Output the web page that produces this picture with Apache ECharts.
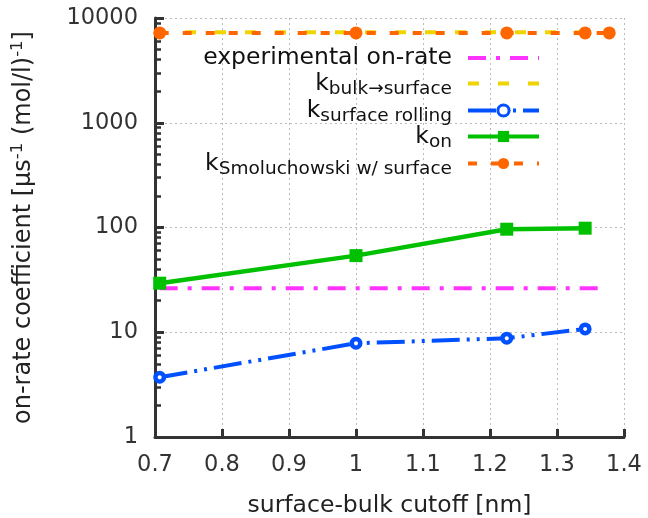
<!DOCTYPE html>
<html>
<head>
<meta charset="utf-8">
<script src="https://cdn.jsdelivr.net/npm/echarts@6/dist/echarts.min.js"></script>
<style>
html,body{margin:0;padding:0;background:#fff;}
#chart{width:648px;height:518px;}
</style>
</head>
<body>
<div id="chart"></div>
<script>
// ---- data ----
const xTickLabels = ['0.7','0.8','0.9','1','1.1','1.2','1.3','1.4'];
const yTickLabels = ['1','10','100','1000','10000'];
const seriesNames = ['experimental on-rate','k_bulk','k_rolling','k_on','k_smol'];

const xExperimental = [0.707, 1.37];
const kExperimental = [26.3, 26.3];

const xBulk = [0.7, 1.375];
const kBulk = [7300, 7300];

const xCutoff = [0.707, 1.0, 1.225, 1.342];
const kRolling = [3.72, 7.85, 8.77, 10.75];
const kOn = [29.4, 53.9, 96.3, 98.5];

const xSmol = [0.707, 1.0, 1.225, 1.342, 1.378];
const kSmol = [7200, 7200, 7200, 7200, 7200];

const pairs = (xs, ys) => xs.map((x, i) => [x, ys[i]]);

const font = 'DejaVu Sans';
const legendRich = {
  t: {fontSize: 23.5, lineHeight: 26, color: '#111', fontFamily: font},
  k: {fontSize: 23.5, lineHeight: 26, color: '#111', fontFamily: font},
  sub: {fontSize: 18.5, lineHeight: 14, padding: [12, 0, 0, 0], color: '#111', fontFamily: font}
};
const legendText = {
  'experimental on-rate': '{t|experimental on-rate}',
  'k_bulk': '{k|k}{sub|bulk\u2192surface}',
  'k_rolling': '{k|k}{sub|surface rolling}',
  'k_on': '{k|k}{sub|on}',
  'k_smol': '{k|k}{sub|Smoluchowski w/ surface}'
};
const legendTops = [46, 68, 95, 121, 148];
const legendItemStyles = [
  {opacity: 0}, {opacity: 0}, {borderWidth: 3}, {}, {}
];

const legends = seriesNames.map((n, i) => ({
  orient: 'vertical',
  right: 107,
  top: legendTops[i],
  padding: 0,
  align: 'right',
  itemWidth: 71,
  itemHeight: 14,
  itemGap: 0,
  selectedMode: false,
  data: [{name: n, itemStyle: legendItemStyles[i]}],
  formatter: nm => legendText[nm],
  lineStyle: {width: 4},
  textStyle: {rich: legendRich, padding: [0, 11, 0, 0]}
}));

const chart = echarts.init(document.getElementById('chart'), null, {renderer: 'canvas'});
chart.setOption({
  animation: false,
  backgroundColor: '#fff',
  grid: {left: 155, right: 24, top: 18, bottom: 81, containLabel: false, outerBoundsMode: 'none'},
  legend: legends,
  xAxis: {
    type: 'value',
    min: 0.7, max: 1.4, interval: 0.1,
    axisLine: {show: true, onZero: false, lineStyle: {color: '#333', width: 3}},
    axisTick: {show: true, inside: true, length: 8, lineStyle: {color: '#333', width: 3}},
    axisLabel: {margin: 17, fontSize: 22.5, color: '#333', fontFamily: font,
      formatter: v => xTickLabels[Math.round((v - 0.7) * 10)]},
    splitLine: {show: true, lineStyle: {color: '#bbb', width: 1, type: [2, 3]}},
    name: 'surface-bulk cutoff [nm]',
    nameLocation: 'middle',
    nameGap: 57,
    nameTextStyle: {fontSize: 23.5, color: '#222', fontFamily: font}
  },
  yAxis: {
    type: 'log',
    logBase: 10,
    min: 1, max: 10000,
    axisLine: {show: true, lineStyle: {color: '#333', width: 3}},
    axisTick: {show: true, inside: true, length: 9, lineStyle: {color: '#333', width: 3}},
    minorTick: {show: true, splitNumber: 9, length: 6, lineStyle: {color: '#333', width: 2.5}},
    axisLabel: {margin: 17, fontSize: 22.5, color: '#333', fontFamily: font,
      formatter: v => yTickLabels[Math.round(Math.log10(v))]},
    splitLine: {show: true, lineStyle: {color: '#bbb', width: 1, type: [2, 3]}},
    name: '{a|on-rate coefficient [\u03bcs}{s|-1}{a| (mol/l)}{s|-1}{a|]}',
    nameLocation: 'middle',
    nameRotate: 90,
    nameGap: 118,
    nameTextStyle: {
      rich: {
        a: {fontSize: 24, lineHeight: 26, color: '#222', fontFamily: font},
        s: {fontSize: 16.5, lineHeight: 16, padding: [0, 0, 12, 0], color: '#222', fontFamily: font}
      }
    }
  },
  series: [
    {
      name: seriesNames[0], type: 'line', data: pairs(xExperimental, kExperimental),
      symbol: 'none', color: '#ff33ff',
      lineStyle: {width: 4, type: [18, 10, 4, 10], color: '#ff33ff'}
    },
    {
      name: seriesNames[1], type: 'line', data: pairs(xBulk, kBulk),
      symbol: 'none', color: '#f0d400',
      lineStyle: {width: 4, type: [11, 19], color: '#f0d400'}
    },
    {
      name: seriesNames[2], type: 'line', data: pairs(xCutoff, kRolling),
      symbol: 'circle', symbolSize: 8.5, color: '#0050ff',
      itemStyle: {color: '#fff', borderColor: '#0050ff', borderWidth: 4.5},
      lineStyle: {width: 4, type: [28, 7, 3, 7, 3, 7], color: '#0050ff'}
    },
    {
      name: seriesNames[3], type: 'line', data: pairs(xCutoff, kOn),
      symbol: 'rect', symbolSize: 13, color: '#00c000',
      itemStyle: {color: '#00c000'},
      lineStyle: {width: 4.5, type: 'solid', color: '#00c000'}
    },
    {
      name: seriesNames[4], type: 'line', data: pairs(xSmol, kSmol),
      symbol: 'circle', symbolSize: 13, color: '#ff6600',
      itemStyle: {color: '#ff6600'},
      lineStyle: {width: 4, type: [9, 14], color: '#ff6600'}
    }
  ]
});
</script>
</body>
</html>
